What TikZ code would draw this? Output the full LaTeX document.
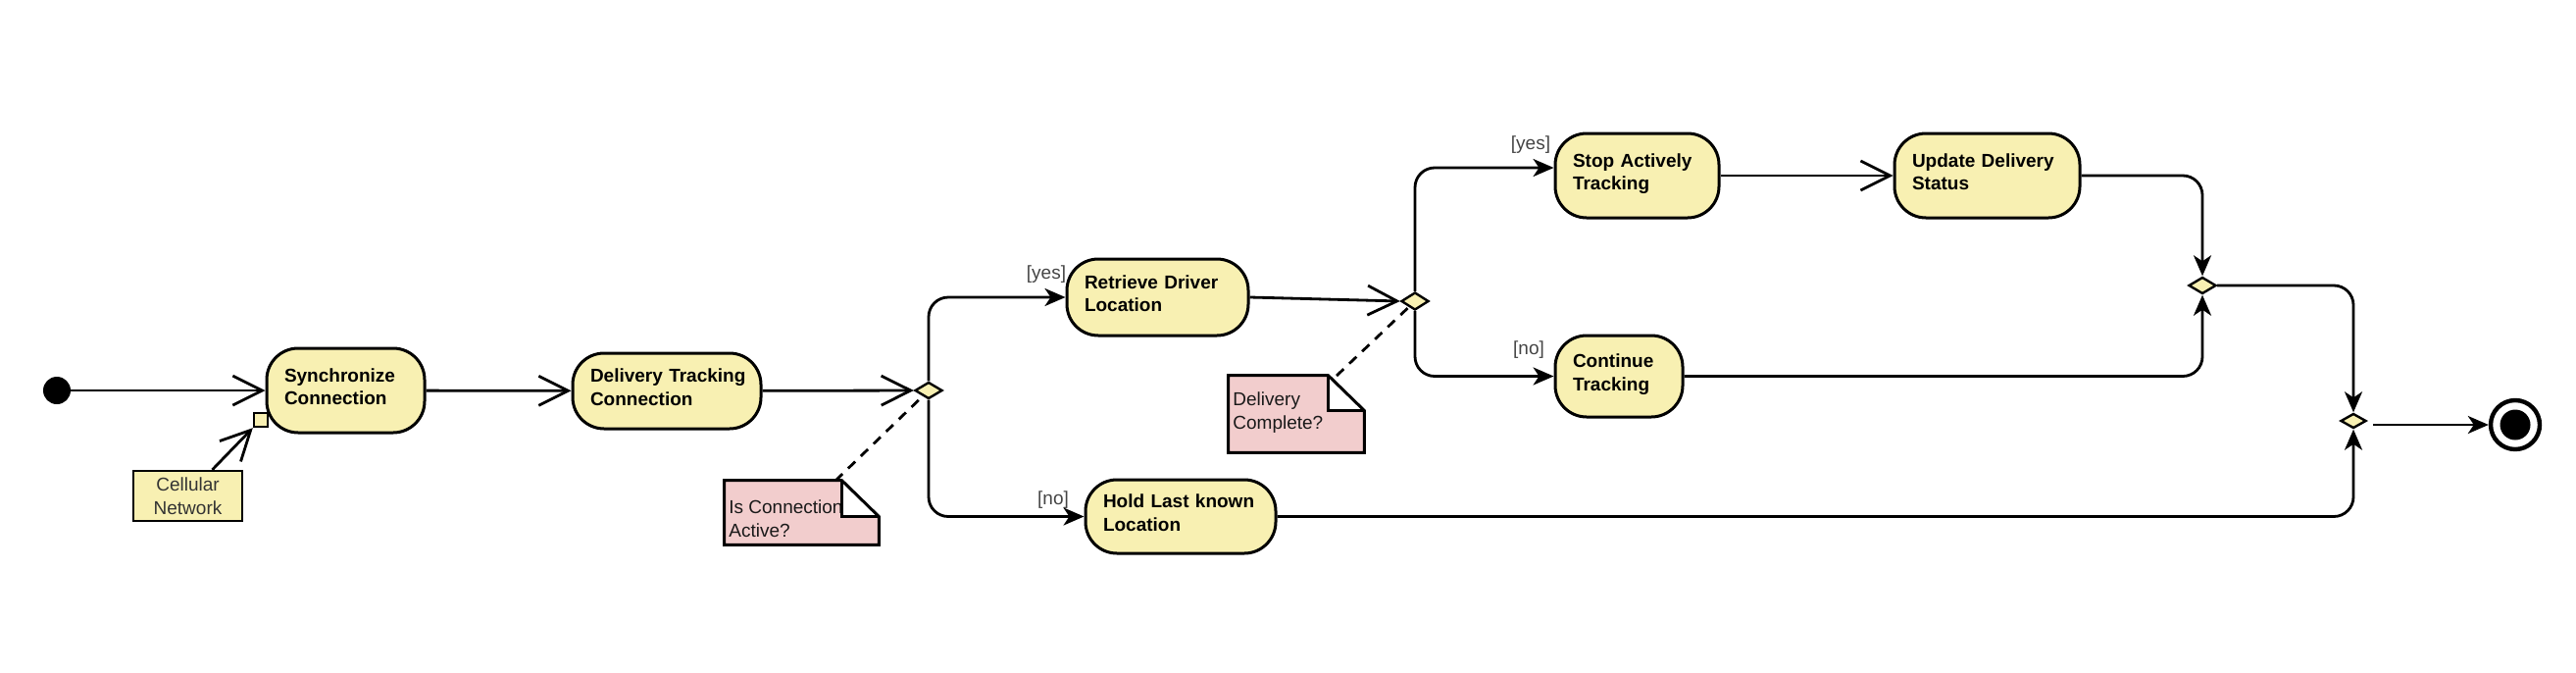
\documentclass[tikz,border=0pt]{standalone}
\usepackage{fontspec}
\setmainfont{Liberation Sans}
\usetikzlibrary{arrows.meta,shapes.geometric,calc}
\definecolor{actfill}{HTML}{F8F0B2}
\definecolor{notefill}{HTML}{F2CDCD}
\definecolor{lblgray}{HTML}{444444}
\definecolor{celltext}{HTML}{333333}
\newcommand{\oneline}[1]{\mbox{#1}}
\begin{document}
\begin{tikzpicture}[x=0.5pt,y=-0.5pt,
  act/.style={draw, line width=1.5pt, fill=actfill, rounded corners=16pt, inner xsep=9pt, inner ysep=0pt, align=left, text height=7pt, text depth=16pt, font=\fontsize{9.5}{11.75}\selectfont\bfseries},
  dec/.style={diamond, draw, line width=1.2pt, fill=actfill, inner sep=0pt, minimum width=14pt, minimum height=8.5pt, aspect=1.7},
  flow/.style={line width=1.4pt, rounded corners=10pt},
  openarr/.style={-{Straight Barb[length=15pt,width=15pt]}},
  fillarr/.style={-{Stealth[length=10.5pt,width=9pt,inset=3pt]}},
  lbl/.style={font=\fontsize{9.5}{12}\selectfont, text=lblgray, inner sep=0pt},
  notetxt/.style={font=\fontsize{9.5}{12}\selectfont, align=left, anchor=west, inner sep=0pt, text=black!90},
  noteline/.style={line width=1.5pt, line join=miter},
  dashline/.style={line width=1.4pt, dash pattern=on 5pt off 4pt}
]
\useasboundingbox (0,0) rectangle (2627,685);

% nodes
\node[circle, fill=black, minimum size=14pt, inner sep=0pt] (init) at (58,398) {};
\node[act, minimum width=80.5pt, minimum height=43pt, text width=62.5pt] (sync) at (352.5,398) {\oneline{Synchronize}\\\oneline{Connection}};
\node[draw, line width=1.2pt, fill=actfill, minimum size=7pt, inner sep=0pt] (pin) at (266,428) {};
\node[draw, line width=1.2pt, fill=actfill, minimum width=55.5pt, minimum height=25.5pt, inner sep=0pt, align=center, font=\fontsize{9.5}{12}\selectfont, text=celltext] (cell) at (191.5,505.5) {Cellular\\Network};
\node[act, minimum width=96pt, minimum height=38.5pt, text width=78pt] (dtc) at (680,398.5) {\oneline{Delivery Tracking}\\\oneline{Connection}};
\node[dec] (dec1) at (947,398) {};
\node[act, minimum width=92.5pt, minimum height=39pt, text width=74.5pt] (retr) at (1180.5,303) {\oneline{Retrieve Driver}\\\oneline{Location}};
\node[act, minimum width=97pt, minimum height=37.5pt, text width=79pt] (hold) at (1204,526.5) {\oneline{Hold Last known}\\\oneline{Location}};
\node[dec, minimum height=9pt] (dec2) at (1443,307) {};
\node[act, minimum width=83.5pt, minimum height=43pt, text width=65.5pt] (stop) at (1669.5,179) {\oneline{Stop Actively}\\\oneline{Tracking}};
\node[act, minimum width=65pt, minimum height=41.5pt, text width=47pt] (cont) at (1651,383.5) {\oneline{Continue}\\\oneline{Tracking}};
\node[act, minimum width=94.5pt, minimum height=43pt, text width=76.5pt] (upd) at (2026.5,179) {\oneline{Update Delivery}\\\oneline{Status}};
\node[dec] (m1) at (2246,291) {};
\node[dec, minimum width=13pt, minimum height=7.5pt] (m2) at (2400,429) {};
\node[circle, draw, line width=2.2pt, fill=white, minimum size=25pt, inner sep=0pt] (final) at (2565,433) {};
\fill (final.center) circle (7.75pt);

% note 1
\node[minimum width=78.5pt, minimum height=32.5pt, inner sep=0pt] (note1) at (817.5,522.5) {};
\fill[notefill] (note1.south west) -- (note1.north west) -- ($(note1.north east)+(-38,0)$) -- ($(note1.north east)+(-38,37)$) -- ($(note1.north east)+(0,37)$) -- (note1.south east) -- cycle;
\node[notetxt] (note1t) at (743,529) {Is Connection\\Active?};
\fill[white] ($(note1.north east)+(-38,0)$) -- ($(note1.north east)+(-38,37)$) -- ($(note1.north east)+(0,37)$) -- cycle;
\draw[noteline] (note1.south west) -- (note1.north west) -- ($(note1.north east)+(-38,0)$) -- ($(note1.north east)+(0,37)$) -- (note1.south east) -- cycle;
\draw[noteline] ($(note1.north east)+(-38,0)$) -- ($(note1.north east)+(-38,37)$) -- ($(note1.north east)+(0,37)$);

% note 2
\node[minimum width=69pt, minimum height=39pt, inner sep=0pt] (note2) at (1322,422) {};
\fill[notefill] (note2.south west) -- (note2.north west) -- ($(note2.north east)+(-37,0)$) -- ($(note2.north east)+(-37,36)$) -- ($(note2.north east)+(0,36)$) -- (note2.south east) -- cycle;
\node[notetxt] (note2t) at (1257,420.5) {Delivery\\Complete?};
\fill[white] ($(note2.north east)+(-37,0)$) -- ($(note2.north east)+(-37,36)$) -- ($(note2.north east)+(0,36)$) -- cycle;
\draw[noteline] (note2.south west) -- (note2.north west) -- ($(note2.north east)+(-37,0)$) -- ($(note2.north east)+(0,36)$) -- (note2.south east) -- cycle;
\draw[noteline] ($(note2.north east)+(-37,0)$) -- ($(note2.north east)+(-37,36)$) -- ($(note2.north east)+(0,36)$);

% labels
\node[lbl] (l1) at (1067,280) {[yes]};
\node[lbl] (l2) at (1074,510) {[no]};
\node[lbl] (l3) at (1561,148) {[yes]};
\node[lbl] (l4) at (1559,357) {[no]};

% connectors
\draw[flow, openarr] (init) -- (sync);
\coordinate (cellout) at ($(cell.north)+(25,0)$);
\draw[flow, openarr] (cellout) -- (pin.south west);
\draw[flow, openarr] (sync) -- (dtc);
\draw[flow, openarr] (dtc) -- (dec1);
\draw[flow, fillarr] (dec1.north) |- (retr.west);
\draw[flow, fillarr] (dec1.south) |- (hold.west);
\draw[flow, openarr] (retr.east) -- (dec2.west);
\coordinate (stopin) at ($(stop.west)+(0,-8)$);
\draw[flow, fillarr] (dec2.north) |- (stopin);
\draw[flow, fillarr] (dec2.south) |- (cont.west);
\draw[flow, openarr] (stop) -- (upd);
\draw[flow, fillarr] (upd.east) -| (m1.north);
\draw[flow, fillarr] (cont.east) -| (m1.south);
\draw[flow, fillarr] (m1.east) -| (m2.north);
\draw[flow, fillarr] (hold.east) -| (m2.south);
\coordinate (m2out) at (m2.east |- final.west);
\draw[flow, fillarr, shorten <=3pt] (m2out) -- (final.west);

% dashed anchors
\coordinate (n1c) at (852,490);
\draw[dashline] (n1c) -- (dec1);
\coordinate (n2c) at (1363,383);
\draw[dashline] (n2c) -- (dec2);
\end{tikzpicture}
\end{document}
